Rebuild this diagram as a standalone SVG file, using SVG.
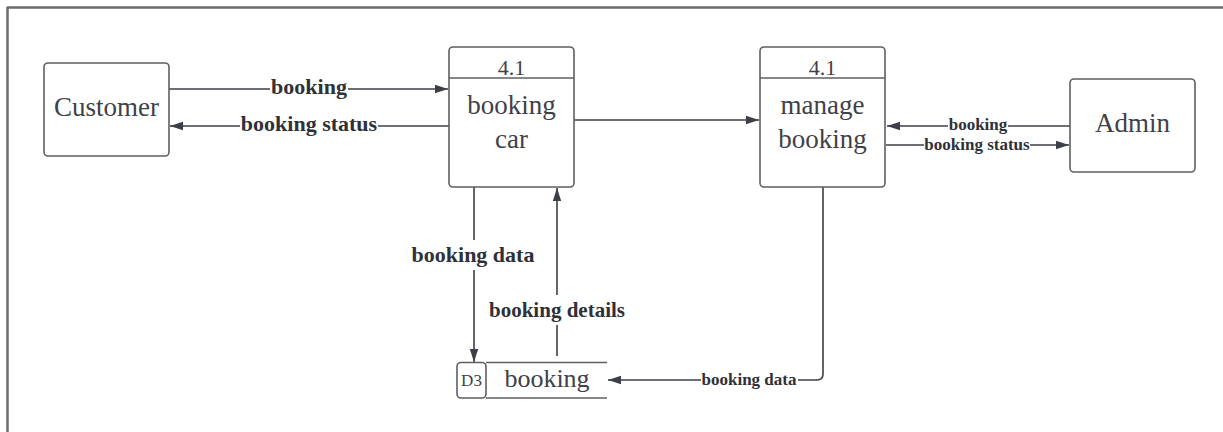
<svg xmlns="http://www.w3.org/2000/svg" width="1223" height="432" viewBox="0 0 1223 432">
<style>
.box{fill:#fff;stroke:#5f5f63;stroke-width:1.6}
.sep{stroke:#5f5f63;stroke-width:1.6}
.lbl{font-family:"Liberation Serif",serif;fill:#3f4148;text-anchor:middle}
.big{font-size:27px}
.num{font-size:22px}
.flow{font-family:"Liberation Serif",serif;font-weight:bold;fill:#2f3138;text-anchor:middle}
.f22{font-size:22px}
.f21{font-size:21px}
.f17{font-size:17px}
.edge{fill:none;stroke:#3c3f47;stroke-width:1.6}
.bg{fill:#fff}
</style>
<defs>
<marker id="arr" markerUnits="userSpaceOnUse" markerWidth="13" markerHeight="10" refX="13" refY="5" orient="auto">
<path d="M0,0.8 L13,5 L0,9.2 z" fill="#3c3f47"/>
</marker>
</defs>
<g id="frame">
<line x1="7" y1="7.5" x2="1223" y2="7.5" stroke="#6e6a6e" stroke-width="2.5"/>
<line x1="7.5" y1="7" x2="7.5" y2="432" stroke="#6e6a6e" stroke-width="2.5"/>
</g>
<g id="connectors">
<path class="edge" d="M169 89 L448 89" marker-end="url(#arr)"/>
<path class="edge" d="M449 126 L170 126" marker-end="url(#arr)"/>
<path class="edge" d="M574 120 L759 120" marker-end="url(#arr)"/>
<path class="edge" d="M1070 126 L887 126" marker-end="url(#arr)"/>
<path class="edge" d="M886 145 L1069 145" marker-end="url(#arr)"/>
<path class="edge" d="M474 187 L474 362" marker-end="url(#arr)"/>
<path class="edge" d="M557 356 L557 188" marker-end="url(#arr)"/>
<path class="edge" d="M823 187 L823 374 Q823 380 817 380 L608 380" marker-end="url(#arr)"/>
<rect class="bg" x="270" y="78" width="78" height="20"/>
<text class="flow f22" x="309" y="94">booking</text>
<rect class="bg" x="240" y="115" width="138" height="20"/>
<text class="flow f22" x="309" y="131">booking status</text>
<rect class="bg" x="948" y="117" width="60" height="16"/>
<text class="flow f17" x="978" y="130">booking</text>
<rect class="bg" x="924" y="136" width="106" height="16"/>
<text class="flow f17" x="977" y="150">booking status</text>
<rect class="bg" x="410" y="240" width="128" height="30"/>
<text class="flow f22" x="473" y="262">booking data</text>
<rect class="bg" x="488" y="295" width="137" height="30"/>
<text class="flow f21" x="557" y="317">booking details</text>
<rect class="bg" x="701" y="371" width="97" height="16"/>
<text class="flow f17" x="749" y="385">booking data</text>
</g>
<g id="customer">
<rect class="box" x="44" y="63" width="125" height="93" rx="4"/>
<text class="lbl big" x="106.5" y="116">Customer</text>
</g>
<g id="booking-car">
<rect class="box" x="449" y="47" width="125" height="140" rx="4"/>
<line class="sep" x1="449" y1="78" x2="574" y2="78"/>
<text class="lbl num" x="511.5" y="75">4.1</text>
<text class="lbl big" x="511.5" y="114">booking</text>
<text class="lbl big" x="511.5" y="148">car</text>
</g>
<g id="manage-booking">
<rect class="box" x="760" y="47" width="125" height="140" rx="4"/>
<line class="sep" x1="760" y1="78" x2="885" y2="78"/>
<text class="lbl num" x="822.5" y="75">4.1</text>
<text class="lbl big" x="822.5" y="114">manage</text>
<text class="lbl big" x="822.5" y="148">booking</text>
</g>
<g id="admin">
<rect class="box" x="1070" y="79" width="125" height="93" rx="4"/>
<text class="lbl big" x="1132.5" y="132">Admin</text>
</g>
<g id="store-d3">
<line class="sep" x1="486" y1="362.5" x2="607" y2="362.5"/>
<line class="sep" x1="486" y1="398" x2="607" y2="398"/>
<rect class="box" x="457" y="362.5" width="29" height="35.5" rx="4"/>
<text class="lbl" x="471.5" y="386" style="font-size:17px">D3</text>
<text class="lbl" x="547" y="387" style="font-size:26px">booking</text>
</g>
</svg>
